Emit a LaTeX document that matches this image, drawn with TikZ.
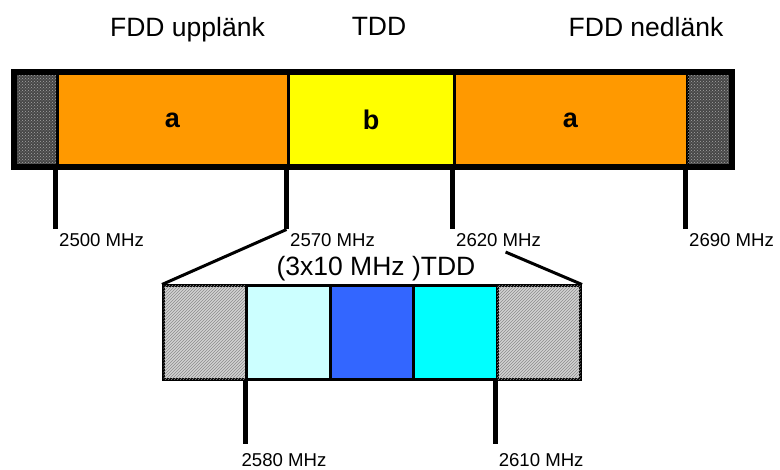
\documentclass[tikz,border=0pt]{standalone}
\usepackage{fontspec}
\setmainfont{Liberation Sans}
\usetikzlibrary{calc,patterns}
\definecolor{bandorange}{HTML}{FF9900}
\definecolor{bandyellow}{HTML}{FFFF00}
\definecolor{chanpale}{HTML}{CCFFFF}
\definecolor{chanblue}{HTML}{3366FF}
\definecolor{chancyan}{HTML}{00FFFF}

\begin{document}
\begin{tikzpicture}[x=1pt,y=-1pt,
		band/.style={draw,line width=3pt,inner sep=0pt,minimum height=92pt,font=\fontsize{27}{30}\selectfont\bfseries},
		guard/.style={band,fill=black!72,postaction={pattern=crosshatch dots,pattern color=gray!70}},
		chan/.style={draw,line width=3pt,inner sep=0pt,minimum width=83.4pt,minimum height=94pt},
		hatch/.style={chan,fill=gray!35,postaction={pattern=north east lines,pattern color=gray!90}},
		tick/.style={line width=5.5pt},
		zoomline/.style={line width=3pt},
		freq/.style={inner sep=0pt,anchor=north west,font=\fontsize{18.6}{21}\selectfont},
		head/.style={inner sep=0pt,anchor=base,font=\fontsize{26.5}{30}\selectfont}]
			\useasboundingbox (0,0) rectangle (780,470);
			\node[head] (upl) at (187.5,36.5) {FDD uppl\"ank};
			\node[head] (tdd) at (379,36) {TDD};
			\node[head] (nedl) at (646,36.5) {FDD nedl\"ank};
			\node[guard,minimum width=42pt] (gl) at (36,120) {};
			\node[band,fill=bandorange,minimum width=231pt] (upa) at (172.5,120) {a};
			\node[band,fill=bandyellow,minimum width=166pt] (tdb) at (371,120) {b};
			\node[band,fill=bandorange,minimum width=233pt] (nea) at (570.5,120) {a};
			\node[guard,minimum width=43pt] (gr) at (708.5,120) {};
			\draw[line width=6pt] (gl.north west) rectangle (gr.south east);
			\foreach \seg/\fq/\mhz in {upa/f1/2500,tdb/f2/2570,nea/f3/2620,gr/f4/2690}{
				\draw[tick] (\seg.south west) -- ++(0,62) coordinate (\fq);
				\node[freq] at ([shift={(3.5,4)}]\fq) {\mhz\ MHz};
			}
			\node[hatch] (c1) at (205.2,333) {};
			\node[chan,fill=chanpale] (c2) at (288.6,333) {};
			\node[chan,fill=chanblue] (c3) at (372,333) {};
			\node[chan,fill=chancyan] (c4) at (455.4,333) {};
			\node[hatch] (c5) at (538.8,333) {};
			\node[head] (ttl) at (376,276) {(3x10 MHz )TDD};
			\draw[zoomline] (f2) -- (c1.north west);
			\draw[zoomline] ($(f3)!0.41!(c5.north east)$) -- (c5.north east);
			\draw[tick] (c2.south west) -- ++(0,63) coordinate (f5);
			\draw[tick] (c5.south west) -- ++(0,63) coordinate (f6);
			\node[freq] at ([shift={(-4,8.5)}]f5) {2580 MHz};
			\node[freq] at ([shift={(3,8.5)}]f6) {2610 MHz};
		\end{tikzpicture}
\end{document}
